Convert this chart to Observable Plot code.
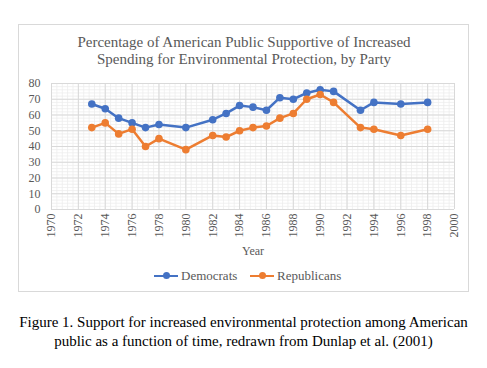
<!DOCTYPE html>
<html><head><meta charset="utf-8">
<script src="https://cdn.jsdelivr.net/npm/d3@7"></script>
<script src="https://cdn.jsdelivr.net/npm/@observablehq/plot@0.6"></script>
<style>
*{font-family:"Liberation Serif",serif !important;}
body{margin:0;background:#fff;}
#frame{position:absolute;left:18px;top:24px;width:451px;height:268px;border:1px solid #d9d9d9;box-sizing:border-box;}
#title{position:absolute;left:18px;top:34px;width:452px;text-align:center;color:#595959;font-size:15px;line-height:17px;}
#chart{position:absolute;left:0;top:75px;}
#legend{position:absolute;top:268px;left:0;width:487px;font-size:13px;color:#595959;}
.li{position:absolute;top:0;height:16px;line-height:16px;}
.sw{position:absolute;top:7px;width:24px;height:2px;}
.dt{position:absolute;top:4px;left:9px;width:7px;height:7px;border-radius:50%;}
#caption{position:absolute;left:0;top:313px;width:487px;text-align:center;font-size:15px;line-height:19px;color:#000;}
svg text{font-family:"Liberation Serif",serif !important;}
</style></head>
<body>
<div id="frame"></div>
<div id="title">Percentage of American Public Supportive of Increased<br>Spending for Environmental Protection, by Party</div>
<div id="chart"></div>
<div id="legend">
  <div class="li" style="left:154px;"><div class="sw" style="left:0;background:#4472C4"></div><div class="dt" style="background:#4472C4"></div><span style="position:absolute;left:27px;white-space:nowrap">Democrats</span></div>
  <div class="li" style="left:250px;"><div class="sw" style="left:0;background:#ED7D31"></div><div class="dt" style="background:#ED7D31"></div><span style="position:absolute;left:27px;white-space:nowrap">Republicans</span></div>
</div>
<div id="caption">Figure 1. Support for increased environmental protection among American<br>public as a function of time, redrawn from Dunlap et al. (2001)</div>
<script>
const years = [1973,1974,1975,1976,1977,1978,1980,1982,1983,1984,1985,1986,1987,1988,1989,1990,1991,1993,1994,1996,1998];
const democrats = [67,64,58,55,52,54,52,57,61,66,65,63,71,70,74,76,75,63,68,67,68];
const republicans = [52,55,48,51,40,45,38,47,46,50,52,53,58,61,70,73,68,52,51,47,51];
const seriesNames = ["Democrats","Republicans"];
const seriesColors = ["#4472C4","#ED7D31"];
const xTicks = d3.range(1970, 2001, 2);
const yTicks = d3.range(0, 81, 10);
const xMinor = d3.range(1970, 2000.01, 0.4);
const yMinor = d3.range(0, 80.01, 2);

const data = [];
years.forEach((y,i)=>{
  data.push({year:y, value:democrats[i], party:seriesNames[0]});
  data.push({year:y, value:republicans[i], party:seriesNames[1]});
});

const chart = Plot.plot({
  width: 487, height: 185,
  marginLeft: 51, marginRight: 33, marginTop: 8, marginBottom: 51,
  style:"font-family:'Liberation Serif',serif;font-size:12px;color:#595959;background:transparent;",
  x:{domain:[1970,2000], ticks:xTicks, tickFormat:d=>String(d), label:"Year", labelAnchor:"center", labelArrow:"none"},
  y:{domain:[0,80], ticks:yTicks, label:null},
  color:{domain:seriesNames, range:seriesColors},
  marks:[
    Plot.ruleX(xMinor,{stroke:"#ececec", strokeWidth:0.75}),
    Plot.ruleY(yMinor,{stroke:"#ececec", strokeWidth:0.75}),
    Plot.ruleX(xTicks,{stroke:"#d9d9d9", strokeWidth:1}),
    Plot.ruleY(yTicks,{stroke:"#d9d9d9", strokeWidth:1}),
    Plot.axisY({ticks:yTicks, tickSize:0, tickPadding:11, fontSize:12, label:null}),
    Plot.axisX({ticks:xTicks, tickSize:0, tickRotate:-90, tickPadding:4, fontSize:12, tickFormat:d=>String(d), label:"Year", labelAnchor:"center", labelOffset:45, labelArrow:"none"}),
    Plot.line(data,{x:"year", y:"value", stroke:"party", strokeWidth:2.5}),
    Plot.dot(data,{x:"year", y:"value", fill:"party", r:3.8})
  ]
});
document.getElementById("chart").appendChild(chart);
</script>
</body></html>
